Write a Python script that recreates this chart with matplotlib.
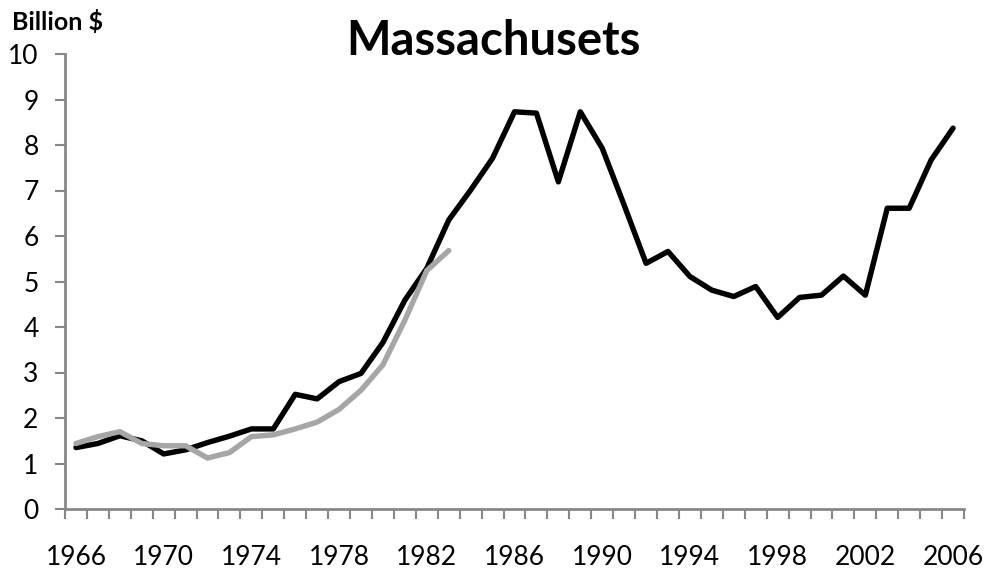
import matplotlib
matplotlib.use("Agg")
import matplotlib.pyplot as plt
import numpy as np

years = list(range(1966, 2007))
black_values = [1.35, 1.44, 1.61, 1.50, 1.21, 1.30, 1.46, 1.60, 1.76, 1.76, 2.52, 2.42,
                2.80, 2.98, 3.66, 4.59, 5.29, 6.35, 7.01, 7.71, 8.73, 8.70, 7.19, 8.73,
                7.93, 6.68, 5.40, 5.66, 5.11, 4.81, 4.67, 4.89, 4.21, 4.65, 4.70, 5.12,
                4.70, 6.61, 6.61, 7.67, 8.37]
gray_years = list(range(1966, 1984))
gray_values = [1.44, 1.59, 1.70, 1.44, 1.39, 1.39, 1.12, 1.24, 1.59, 1.63, 1.76, 1.91,
               2.19, 2.61, 3.17, 4.15, 5.24, 5.68]
yticks = list(range(0, 11))
xlabel_years = list(range(1966, 2007, 4))

plt.rcParams['font.family'] = ['Lato', 'DejaVu Sans']

fig = plt.figure(figsize=(9.87, 5.75), dpi=100)
ax = fig.add_axes([65/987, 1-509/575, (964-65)/987, (509-54)/575])

x0 = years[0]
ax.plot([y - x0 for y in years], black_values, color='black', lw=3.9, solid_joinstyle='round', solid_capstyle='round', zorder=2)
ax.plot([y - x0 for y in gray_years], gray_values, color='#A6A6A6', lw=3.9, solid_joinstyle='round', solid_capstyle='round', zorder=3)

ax.set_xlim(-0.5, len(years) - 0.5)
ax.set_ylim(0, 10)

axis_color = '#878787'
for s in ['top', 'right']:
    ax.spines[s].set_visible(False)
for s in ['left', 'bottom']:
    ax.spines[s].set_color(axis_color)
    ax.spines[s].set_linewidth(2)

ax.set_yticks(yticks)
ax.set_yticklabels([str(v) for v in yticks], fontsize=19)
ax.tick_params(axis='y', direction='out', length=7, width=1.5, color=axis_color, pad=12)

# tick marks between categories, labels at category centers
ax.set_xticks(np.arange(-0.5, len(years) + 0.5, 1.0))
ax.set_xticklabels([])
ax.tick_params(axis='x', which='major', direction='out', length=7, width=1.5, color=axis_color)
ax.set_xticks([y - x0 for y in xlabel_years], minor=True)
ax.set_xticklabels([str(y) for y in xlabel_years], minor=True, fontsize=19)
ax.tick_params(axis='x', which='minor', length=0, pad=26)

fig.text(0.5, 1 - 41/575, 'Massachusets', ha='center', va='center', fontsize=34, fontweight='bold')
fig.text(12/987, 1 - 22/575, 'Billion $', ha='left', va='center', fontsize=18, fontweight='bold')

fig.savefig('out.png', dpi=100)
